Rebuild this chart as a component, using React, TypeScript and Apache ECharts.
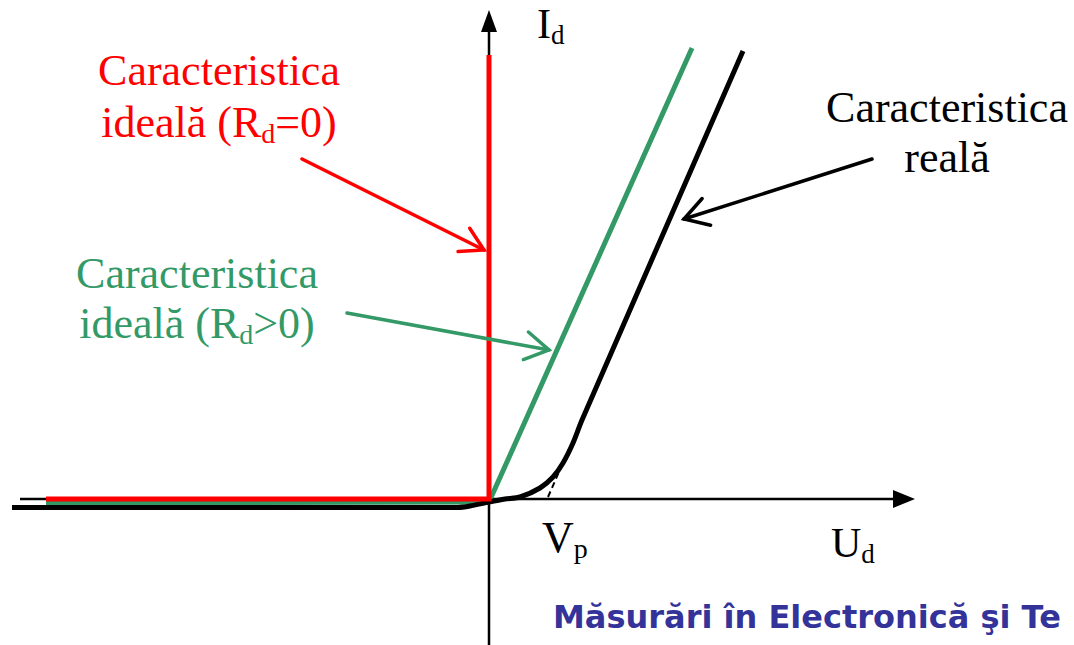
import React, { useEffect, useRef } from "react";
import * as echarts from "echarts";

// ---- diagram data (U = voltage, I = current), origin at the axes crossing ----
const idealRd0: number[][] = [[-443, 0], [0, 0], [0, 444]];
const idealRdPos: number[][] = [[-443, -4], [0, -3], [203, 451]];
const realCurve: number[][] = [
  [-477, -8.5], [-31, -8.5], [-19, -7], [0, -3], [16, 0], [31, 2], [51, 11],
  [64, 22], [74, 36], [84, 56], [93, 79], [254, 448],
];
const tangent: number[][] = [[59, 2], [80, 50]];
const axisU: number[][] = [[-469, 0], [426, 0]];
const axisI: number[][] = [[0, -146], [0, 489]];
const arrowRd0: number[][] = [[-187, 340], [-5, 249]];
const arrowRdPos: number[][] = [[-142, 186], [60, 149]];
const arrowReal: number[][] = [[383, 340], [195, 280]];

// ---- texts ----
const labelRd0: string[][] = [["Caracteristica"], ["ideală (R", "d", "=0)"]];
const labelRdPos: string[][] = [["Caracteristica"], ["ideală (R", "d", ">0)"]];
const labelReal: string[][] = [["Caracteristica"], ["reală"]];
const labelI: string[] = ["I", "d"];
const labelU: string[] = ["U", "d"];
const labelVp: string[] = ["V", "p"];
const footer = "Măsurări în Electronică şi Te";

const SERIF = '"Liberation Serif", "Times New Roman", serif';
const SANS = '"DejaVu Sans", Verdana, sans-serif';
const RED = "#ff0000";
const GREEN = "#339966";
const BLACK = "#000000";

let measureCtx: CanvasRenderingContext2D | null = null;
function measure(text: string, size: number, family: string, weight = "normal") {
  if (!measureCtx) measureCtx = document.createElement("canvas").getContext("2d");
  measureCtx!.font = `${weight} ${size}px ${family}`;
  return measureCtx!.measureText(text).width;
}

// segments alternate normal / subscript (odd index = subscript)
function textLine(segs: string[], x: number, baseline: number, size: number, color: string, align: "left" | "center") {
  const sub = Math.round(size * 0.64);
  const sizes = segs.map((_, i) => (i % 2 === 1 ? sub : size));
  const widths = segs.map((s, i) => measure(s, sizes[i], SERIF));
  const total = widths.reduce((a, b) => a + b, 0);
  let cx = align === "center" ? x - total / 2 : x;
  const out: any[] = [];
  segs.forEach((s, i) => {
    const sz = sizes[i];
    const b = i % 2 === 1 ? baseline + size * 0.14 : baseline;
    out.push({
      type: "text",
      silent: true,
      z: 100,
      style: {
        text: s,
        x: cx,
        y: b - 0.3375 * sz,
        fontSize: sz,
        fontFamily: SERIF,
        fill: color,
        align: "left",
        verticalAlign: "middle",
      },
    });
    cx += widths[i];
  });
  return out;
}

function arrowSeries(coords: number[][], color: string, width: number, headLen: number, headHalf: number, filled: boolean, z: number) {
  return {
    type: "custom",
    coordinateSystem: "cartesian2d",
    silent: true,
    z,
    clip: false,
    data: [[coords[0][0], coords[0][1], coords[1][0], coords[1][1]]],
    encode: { x: [0, 2], y: [1, 3] },
    renderItem: (_p: any, api: any) => {
      const a = api.coord([api.value(0), api.value(1)]);
      const b = api.coord([api.value(2), api.value(3)]);
      const dx = b[0] - a[0];
      const dy = b[1] - a[1];
      const len = Math.hypot(dx, dy);
      const ux = dx / len;
      const uy = dy / len;
      const nx = -uy;
      const ny = ux;
      const base = [b[0] - ux * headLen, b[1] - uy * headLen];
      const w1 = [base[0] + nx * headHalf, base[1] + ny * headHalf];
      const w2 = [base[0] - nx * headHalf, base[1] - ny * headHalf];
      const children: any[] = [];
      if (filled) {
        children.push({ type: "line", shape: { x1: a[0], y1: a[1], x2: base[0], y2: base[1] }, style: { stroke: color, lineWidth: width } });
        children.push({ type: "polygon", shape: { points: [b, w1, w2] }, style: { fill: color } });
      } else {
        children.push({ type: "line", shape: { x1: a[0], y1: a[1], x2: b[0], y2: b[1] }, style: { stroke: color, lineWidth: width, lineCap: "round" } });
        children.push({ type: "polyline", shape: { points: [w1, b, w2] }, style: { stroke: color, lineWidth: width, fill: "none", lineCap: "round", lineJoin: "miter" } });
      }
      return { type: "group", children };
    },
  };
}

export default function App() {
  const ref = useRef<HTMLDivElement>(null);
  useEffect(() => {
    if (!ref.current) return;
    const chart = echarts.init(ref.current, undefined, { renderer: "svg" });
    const graphics: any[] = [];
    labelRd0.forEach((l, i) => graphics.push(...textLine(l, 219, 85 + i * 52, 44, RED, "center")));
    labelRdPos.forEach((l, i) => graphics.push(...textLine(l, 197, 288 + i * 50, 44, GREEN, "center")));
    labelReal.forEach((l, i) => graphics.push(...textLine(l, 947, 122 + i * 50, 44, BLACK, "center")));
    graphics.push(...textLine(labelI, 537, 38, 42, BLACK, "left"));
    graphics.push(...textLine(labelVp, 542, 552, 44, BLACK, "left"));
    graphics.push(...textLine(labelU, 831, 557, 42, BLACK, "left"));
    const footSize = 32;
    graphics.push({
      type: "text",
      silent: true,
      z: 100,
      style: {
        text: footer,
        x: 553,
        y: 628 - 0.346 * footSize,
        fontSize: footSize,
        fontFamily: SANS,
        fontWeight: "bold",
        fill: "#333399",
        align: "left",
        verticalAlign: "middle",
      },
    });

    chart.setOption({
      animation: false,
      backgroundColor: "#ffffff",
      grid: { left: 0, right: 0, top: 0, bottom: 0 },
      xAxis: { type: "value", min: -489, max: 585, show: false },
      yAxis: { type: "value", min: -146, max: 499, show: false },
      graphic: graphics,
      series: [
        arrowSeries(axisU, BLACK, 2.5, 22, 9, true, 1),
        arrowSeries(axisI, BLACK, 2.5, 22, 8, true, 1),
        {
          type: "line",
          data: idealRdPos,
          showSymbol: false,
          symbol: "none",
          lineStyle: { color: GREEN, width: 5 },
          z: 2,
          silent: true,
        },
        {
          type: "line",
          data: realCurve,
          showSymbol: false,
          symbol: "none",
          smooth: 0.25,
          lineStyle: { color: BLACK, width: 5 },
          z: 3,
          silent: true,
        },
        {
          type: "line",
          data: idealRd0,
          showSymbol: false,
          symbol: "none",
          lineStyle: { color: RED, width: 5, join: "miter" },
          z: 4,
          silent: true,
        },
        {
          type: "line",
          data: tangent,
          showSymbol: false,
          symbol: "none",
          lineStyle: { color: BLACK, width: 2, type: [6, 4] },
          z: 5,
          silent: true,
        },
        arrowSeries(arrowRd0, RED, 3.5, 22.5, 13, false, 6),
        arrowSeries(arrowRdPos, GREEN, 3.5, 23.5, 14, false, 6),
        arrowSeries(arrowReal, BLACK, 3.5, 23.5, 14, false, 6),
      ],
    });
    return () => chart.dispose();
  }, []);
  return (
    <div
      ref={ref}
      style={{ position: "fixed", left: 0, top: 0, width: 1074, height: 645, background: "#fff" }}
    />
  );
}
